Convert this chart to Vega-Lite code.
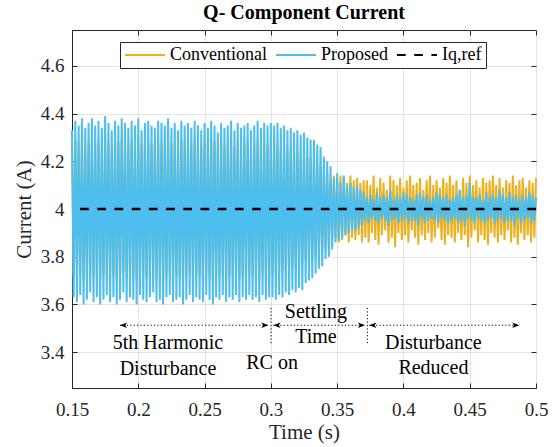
{
"$schema":"https://vega.github.io/schema/vega-lite/v6.json",
"width":464,"height":358,
"autosize":{"type":"none"},
"padding":{"left":72,"top":30,"right":23,"bottom":59},
"background":"white",
"title":{"text":"Q- Component Current","fontSize":20,"fontWeight":"bold","font":"Liberation Serif","color":"black","anchor":"middle","frame":"group","baseline":"alphabetic","offset":-9},
"config":{
"font":"Liberation Serif",
"view":{"stroke":"#262626","strokeWidth":1},
"axis":{"labelFont":"Liberation Serif","labelFontSize":19,"labelColor":"#262626","labelFlush":false,"titleFont":"Liberation Serif","titleFontSize":21,"titleFontWeight":"normal","titleColor":"#262626","domainColor":"#262626","tickColor":"#262626","gridColor":"#e3e3e3","tickSize":-5,"domainWidth":1,"tickWidth":1},
"legend":{"labelFont":"Liberation Serif","labelFontSize":18,"labelColor":"black","symbolType":"stroke","symbolSize":1600,"symbolStrokeWidth":2,"labelOffset":4,"columnPadding":8,"padding":4,"strokeColor":"#262626","fillColor":"white","clipHeight":18}
},
"data":{"values":[
{"t":0.15,"c":4.27,"p":4.33},{"t":0.15125,"c":3.72,"p":3.63},{"t":0.1525,"c":4.29,"p":4.37},{"t":0.15375,"c":3.71,"p":3.61},{"t":0.155,"c":4.28,"p":4.35},{"t":0.15625,"c":3.73,"p":3.64},{"t":0.1575,"c":4.30,"p":4.38},{"t":0.15875,"c":3.70,"p":3.60},
{"t":0.16,"c":4.27,"p":4.34},{"t":0.16125,"c":3.72,"p":3.62},{"t":0.1625,"c":4.28,"p":4.36},{"t":0.16375,"c":3.74,"p":3.65},{"t":0.165,"c":4.29,"p":4.38},{"t":0.16625,"c":3.71,"p":3.61},{"t":0.1675,"c":4.27,"p":4.35},{"t":0.16875,"c":3.72,"p":3.63},
{"t":0.17,"c":4.28,"p":4.37},{"t":0.17125,"c":3.70,"p":3.60},{"t":0.1725,"c":4.26,"p":4.34},{"t":0.17375,"c":3.72,"p":3.62},{"t":0.175,"c":4.29,"p":4.39},{"t":0.17625,"c":3.73,"p":3.64},{"t":0.1775,"c":4.28,"p":4.36},{"t":0.17875,"c":3.71,"p":3.61},
{"t":0.18,"c":4.27,"p":4.33},{"t":0.18125,"c":3.72,"p":3.63},{"t":0.1825,"c":4.29,"p":4.37},{"t":0.18375,"c":3.70,"p":3.60},{"t":0.185,"c":4.28,"p":4.35},{"t":0.18625,"c":3.72,"p":3.62},{"t":0.1875,"c":4.30,"p":4.38},{"t":0.18875,"c":3.74,"p":3.65},
{"t":0.19,"c":4.28,"p":4.36},{"t":0.19125,"c":3.71,"p":3.61},{"t":0.1925,"c":4.27,"p":4.34},{"t":0.19375,"c":3.72,"p":3.63},{"t":0.195,"c":4.29,"p":4.37},{"t":0.19625,"c":3.72,"p":3.62},{"t":0.1975,"c":4.28,"p":4.35},{"t":0.19875,"c":3.70,"p":3.60},
{"t":0.2,"c":4.30,"p":4.38},{"t":0.20125,"c":3.73,"p":3.64},{"t":0.2025,"c":4.27,"p":4.33},{"t":0.20375,"c":3.72,"p":3.62},{"t":0.205,"c":4.28,"p":4.36},{"t":0.20625,"c":3.71,"p":3.61},{"t":0.2075,"c":4.29,"p":4.37},{"t":0.20875,"c":3.72,"p":3.63},
{"t":0.21,"c":4.27,"p":4.35},{"t":0.21125,"c":3.74,"p":3.65},{"t":0.2125,"c":4.28,"p":4.34},{"t":0.21375,"c":3.71,"p":3.61},{"t":0.215,"c":4.29,"p":4.37},{"t":0.21625,"c":3.72,"p":3.62},{"t":0.2175,"c":4.28,"p":4.36},{"t":0.21875,"c":3.70,"p":3.60},
{"t":0.22,"c":4.27,"p":4.35},{"t":0.22125,"c":3.72,"p":3.63},{"t":0.2225,"c":4.30,"p":4.38},{"t":0.22375,"c":3.73,"p":3.64},{"t":0.225,"c":4.28,"p":4.34},{"t":0.22625,"c":3.71,"p":3.61},{"t":0.2275,"c":4.27,"p":4.36},{"t":0.22875,"c":3.72,"p":3.62},
{"t":0.23,"c":4.26,"p":4.33},{"t":0.23125,"c":3.72,"p":3.63},{"t":0.2325,"c":4.29,"p":4.37},{"t":0.23375,"c":3.70,"p":3.60},{"t":0.235,"c":4.28,"p":4.35},{"t":0.23625,"c":3.72,"p":3.62},{"t":0.2375,"c":4.28,"p":4.36},{"t":0.23875,"c":3.73,"p":3.64},
{"t":0.24,"c":4.27,"p":4.34},{"t":0.24125,"c":3.71,"p":3.61},{"t":0.2425,"c":4.29,"p":4.37},{"t":0.24375,"c":3.72,"p":3.63},{"t":0.245,"c":4.28,"p":4.35},{"t":0.24625,"c":3.72,"p":3.62},{"t":0.2475,"c":4.26,"p":4.33},{"t":0.24875,"c":3.71,"p":3.61},
{"t":0.25,"c":4.28,"p":4.36},{"t":0.25125,"c":3.73,"p":3.64},{"t":0.2525,"c":4.27,"p":4.34},{"t":0.25375,"c":3.72,"p":3.62},{"t":0.255,"c":4.29,"p":4.37},{"t":0.25625,"c":3.70,"p":3.60},{"t":0.2575,"c":4.28,"p":4.35},{"t":0.25875,"c":3.72,"p":3.63},
{"t":0.26,"c":4.26,"p":4.32},{"t":0.26125,"c":3.72,"p":3.62},{"t":0.2625,"c":4.28,"p":4.36},{"t":0.26375,"c":3.73,"p":3.64},{"t":0.265,"c":4.27,"p":4.34},{"t":0.26625,"c":3.71,"p":3.61},{"t":0.2675,"c":4.28,"p":4.35},{"t":0.26875,"c":3.72,"p":3.63},
{"t":0.27,"c":4.29,"p":4.37},{"t":0.27125,"c":3.72,"p":3.62},{"t":0.2725,"c":4.26,"p":4.33},{"t":0.27375,"c":3.73,"p":3.64},{"t":0.275,"c":4.28,"p":4.36},{"t":0.27625,"c":3.71,"p":3.61},{"t":0.2775,"c":4.27,"p":4.34},{"t":0.27875,"c":3.72,"p":3.63},
{"t":0.28,"c":4.28,"p":4.35},{"t":0.28125,"c":3.72,"p":3.62},{"t":0.2825,"c":4.28,"p":4.36},{"t":0.28375,"c":3.73,"p":3.64},{"t":0.285,"c":4.26,"p":4.33},{"t":0.28625,"c":3.72,"p":3.62},{"t":0.2875,"c":4.28,"p":4.35},{"t":0.28875,"c":3.72,"p":3.63},
{"t":0.29,"c":4.29,"p":4.37},{"t":0.29125,"c":3.71,"p":3.61},{"t":0.2925,"c":4.27,"p":4.34},{"t":0.29375,"c":3.73,"p":3.64},{"t":0.295,"c":4.28,"p":4.36},{"t":0.29625,"c":3.72,"p":3.62},{"t":0.2975,"c":4.27,"p":4.35},{"t":0.29875,"c":3.72,"p":3.63},
{"t":0.3,"c":4.28,"p":4.36},{"t":0.30125,"c":3.72,"p":3.63},{"t":0.3025,"c":4.27,"p":4.35},{"t":0.30375,"c":3.73,"p":3.62},{"t":0.305,"c":4.27,"p":4.36},{"t":0.30625,"c":3.73,"p":3.64},{"t":0.3075,"c":4.26,"p":4.34},{"t":0.30875,"c":3.74,"p":3.63},
{"t":0.31,"c":4.26,"p":4.35},{"t":0.31125,"c":3.74,"p":3.65},{"t":0.3125,"c":4.25,"p":4.33},{"t":0.31375,"c":3.75,"p":3.64},{"t":0.315,"c":4.25,"p":4.34},{"t":0.31625,"c":3.75,"p":3.66},{"t":0.3175,"c":4.24,"p":4.32},{"t":0.31875,"c":3.76,"p":3.65},
{"t":0.32,"c":4.24,"p":4.33},{"t":0.32125,"c":3.77,"p":3.67},{"t":0.3225,"c":4.23,"p":4.31},{"t":0.32375,"c":3.77,"p":3.66},{"t":0.325,"c":4.22,"p":4.32},{"t":0.32625,"c":3.78,"p":3.69},{"t":0.3275,"c":4.22,"p":4.30},{"t":0.32875,"c":3.79,"p":3.70},
{"t":0.33,"c":4.21,"p":4.29},{"t":0.33125,"c":3.80,"p":3.71},{"t":0.3325,"c":4.20,"p":4.29},{"t":0.33375,"c":3.80,"p":3.73},{"t":0.335,"c":4.19,"p":4.27},{"t":0.33625,"c":3.81,"p":3.75},{"t":0.3375,"c":4.18,"p":4.26},{"t":0.33875,"c":3.82,"p":3.76},
{"t":0.34,"c":4.17,"p":4.22},{"t":0.34125,"c":3.83,"p":3.79},{"t":0.3425,"c":4.15,"p":4.20},{"t":0.34375,"c":3.84,"p":3.80},{"t":0.345,"c":4.13,"p":4.18},{"t":0.34625,"c":3.87,"p":3.83},{"t":0.3475,"c":4.14,"p":4.13},{"t":0.34875,"c":3.88,"p":3.86},
{"t":0.35,"c":4.12,"p":4.15},{"t":0.35125,"c":3.86,"p":3.87},{"t":0.3525,"c":4.14,"p":4.11},{"t":0.35375,"c":3.87,"p":3.88},{"t":0.355,"c":4.13,"p":4.14},{"t":0.35625,"c":3.89,"p":3.89},{"t":0.3575,"c":4.11,"p":4.10},{"t":0.35875,"c":3.86,"p":3.90},
{"t":0.36,"c":4.14,"p":4.11},{"t":0.36125,"c":3.88,"p":3.91},{"t":0.3625,"c":4.12,"p":4.09},{"t":0.36375,"c":3.87,"p":3.91},{"t":0.365,"c":4.13,"p":4.10},{"t":0.36625,"c":3.89,"p":3.92},{"t":0.3675,"c":4.11,"p":4.08},{"t":0.36875,"c":3.86,"p":3.93},
{"t":0.37,"c":4.12,"p":4.07},{"t":0.37125,"c":3.88,"p":3.95},{"t":0.3725,"c":4.12,"p":4.05},{"t":0.37375,"c":3.86,"p":3.94},{"t":0.375,"c":4.10,"p":4.06},{"t":0.37625,"c":3.90,"p":3.96},{"t":0.3775,"c":4.14,"p":4.04},{"t":0.37875,"c":3.87,"p":3.95},
{"t":0.38,"c":4.09,"p":4.07},{"t":0.38125,"c":3.85,"p":3.94},{"t":0.3825,"c":4.13,"p":4.05},{"t":0.38375,"c":3.89,"p":3.96},{"t":0.385,"c":4.11,"p":4.06},{"t":0.38625,"c":3.91,"p":3.95},{"t":0.3875,"c":4.08,"p":4.05},{"t":0.38875,"c":3.86,"p":3.93},
{"t":0.39,"c":4.14,"p":4.08},{"t":0.39125,"c":3.88,"p":3.95},{"t":0.3925,"c":4.12,"p":4.04},{"t":0.39375,"c":3.84,"p":3.96},{"t":0.395,"c":4.10,"p":4.06},{"t":0.39625,"c":3.90,"p":3.94},{"t":0.3975,"c":4.13,"p":4.05},{"t":0.39875,"c":3.87,"p":3.95},
{"t":0.4,"c":4.09,"p":4.07},{"t":0.40125,"c":3.89,"p":3.96},{"t":0.4025,"c":4.12,"p":4.06},{"t":0.40375,"c":3.86,"p":3.94},{"t":0.405,"c":4.14,"p":4.05},{"t":0.40625,"c":3.91,"p":3.95},{"t":0.4075,"c":4.10,"p":4.04},{"t":0.40875,"c":3.88,"p":3.95},
{"t":0.41,"c":4.11,"p":4.06},{"t":0.41125,"c":3.85,"p":3.93},{"t":0.4125,"c":4.13,"p":4.07},{"t":0.41375,"c":3.89,"p":3.96},{"t":0.415,"c":4.08,"p":4.05},{"t":0.41625,"c":3.87,"p":3.94},{"t":0.4175,"c":4.12,"p":4.06},{"t":0.41875,"c":3.90,"p":3.95},
{"t":0.42,"c":4.14,"p":4.04},{"t":0.42125,"c":3.86,"p":3.96},{"t":0.4225,"c":4.10,"p":4.05},{"t":0.42375,"c":3.88,"p":3.95},{"t":0.425,"c":4.12,"p":4.07},{"t":0.42625,"c":3.92,"p":3.94},{"t":0.4275,"c":4.09,"p":4.06},{"t":0.42875,"c":3.87,"p":3.96},
{"t":0.43,"c":4.13,"p":4.05},{"t":0.43125,"c":3.85,"p":3.95},{"t":0.4325,"c":4.11,"p":4.06},{"t":0.43375,"c":3.89,"p":3.94},{"t":0.435,"c":4.14,"p":4.04},{"t":0.43625,"c":3.88,"p":3.95},{"t":0.4375,"c":4.10,"p":4.05},{"t":0.43875,"c":3.86,"p":3.96},
{"t":0.44,"c":4.12,"p":4.06},{"t":0.44125,"c":3.90,"p":3.94},{"t":0.4425,"c":4.08,"p":4.08},{"t":0.44375,"c":3.87,"p":3.95},{"t":0.445,"c":4.13,"p":4.05},{"t":0.44625,"c":3.89,"p":3.93},{"t":0.4475,"c":4.11,"p":4.06},{"t":0.44875,"c":3.84,"p":3.96},
{"t":0.45,"c":4.14,"p":4.11},{"t":0.45125,"c":3.88,"p":3.95},{"t":0.4525,"c":4.10,"p":4.05},{"t":0.45375,"c":3.91,"p":3.94},{"t":0.455,"c":4.12,"p":4.05},{"t":0.45625,"c":3.86,"p":3.96},{"t":0.4575,"c":4.09,"p":4.06},{"t":0.45875,"c":3.89,"p":3.95},
{"t":0.46,"c":4.13,"p":4.04},{"t":0.46125,"c":3.87,"p":3.94},{"t":0.4625,"c":4.11,"p":4.07},{"t":0.46375,"c":3.85,"p":3.95},{"t":0.465,"c":4.12,"p":4.05},{"t":0.46625,"c":3.90,"p":3.96},{"t":0.4675,"c":4.14,"p":4.06},{"t":0.46875,"c":3.88,"p":3.94},
{"t":0.47,"c":4.10,"p":4.05},{"t":0.47125,"c":3.86,"p":3.95},{"t":0.4725,"c":4.13,"p":4.08},{"t":0.47375,"c":3.89,"p":3.96},{"t":0.475,"c":4.09,"p":4.06},{"t":0.47625,"c":3.87,"p":3.94},{"t":0.4775,"c":4.12,"p":4.05},{"t":0.47875,"c":3.91,"p":3.95},
{"t":0.48,"c":4.11,"p":4.07},{"t":0.48125,"c":3.86,"p":3.95},{"t":0.4825,"c":4.14,"p":4.05},{"t":0.48375,"c":3.88,"p":3.93},{"t":0.485,"c":4.10,"p":4.06},{"t":0.48625,"c":3.85,"p":3.96},{"t":0.4875,"c":4.12,"p":4.04},{"t":0.48875,"c":3.90,"p":3.94},
{"t":0.49,"c":4.13,"p":4.06},{"t":0.49125,"c":3.87,"p":3.95},{"t":0.4925,"c":4.09,"p":4.05},{"t":0.49375,"c":3.89,"p":3.96},{"t":0.495,"c":4.12,"p":4.07},{"t":0.49625,"c":3.86,"p":3.94},{"t":0.4975,"c":4.11,"p":4.06},{"t":0.49875,"c":3.88,"p":3.95},
{"t":0.5,"c":4.13,"p":4.05}
]},
"layer":[
{"mark":{"type":"line","strokeWidth":2},
 "encoding":{
  "x":{"field":"t","type":"quantitative","scale":{"domain":[0.15,0.5],"nice":false,"zero":false},"axis":{"values":[0.15,0.2,0.25,0.3,0.35,0.4,0.45,0.5],"format":"~g","title":"Time (s)","labelPadding":17,"titleY":50,"titleBaseline":"alphabetic","grid":true}},
  "y":{"field":"c","type":"quantitative","scale":{"domain":[3.25,4.75],"nice":false,"zero":false},"axis":{"values":[3.4,3.6,3.8,4,4.2,4.4,4.6],"format":"~g","title":"Current (A)","labelPadding":13,"titleX":-42,"titleY":179,"titleBaseline":"alphabetic","titleAngle":-90,"grid":true}},
  "color":{"datum":"Conventional","type":"nominal","scale":{"domain":["Conventional","Proposed","Iq,ref"],"range":["#EDB120","#4DBEEE","#000000"]},"legend":{"title":null,"orient":"none","legendX":48,"legendY":12,"direction":"horizontal"}}
 }},
{"mark":{"type":"line","strokeWidth":2},
 "encoding":{
  "x":{"field":"t","type":"quantitative","scale":{"domain":[0.15,0.5]},"axis":null},
  "y":{"field":"p","type":"quantitative","scale":{"domain":[3.25,4.75]},"axis":null},
  "color":{"datum":"Proposed","type":"nominal"}
 }},
{"data":{"values":[{"v":4}]},
 "mark":{"type":"rule","strokeWidth":2.5},
 "encoding":{
  "y":{"field":"v","type":"quantitative","scale":{"domain":[3.25,4.75]},"axis":null},
  "color":{"datum":"Iq,ref","type":"nominal"},
  "strokeDash":{"datum":"Iq,ref","type":"nominal","scale":{"domain":["Conventional","Proposed","Iq,ref"],"range":[[1,0],[1,0],[8.7,8.5]]},"legend":{"title":null,"orient":"none","legendX":48,"legendY":12,"direction":"horizontal"}}
 }},
{"data":{"values":[{"x":0.3001,"y1":3.438,"y2":3.595},{"x":0.3728,"y1":3.438,"y2":3.59}]},
 "mark":{"type":"rule","color":"black","strokeWidth":1,"strokeDash":[1.2,2.2]},
 "encoding":{
  "x":{"field":"x","type":"quantitative","scale":{"domain":[0.15,0.5]},"axis":{"orient":"top","values":[0.15,0.2,0.25,0.3,0.35,0.4,0.45,0.5],"labels":false,"title":null,"grid":false,"domain":false,"tickSize":-5}},
  "y":{"field":"y1","type":"quantitative","scale":{"domain":[3.25,4.75]},"axis":{"orient":"right","values":[3.4,3.6,3.8,4,4.2,4.4,4.6],"labels":false,"title":null,"grid":false,"domain":false,"tickSize":-5}},
  "y2":{"field":"y2"}
 }},
{"data":{"values":[{"x1":0.1862,"x2":0.2981},{"x1":0.302,"x2":0.371},{"x1":0.3743,"x2":0.4874}]},
 "mark":{"type":"rule","color":"black","strokeWidth":1,"strokeDash":[1.2,2.2]},
 "encoding":{
  "x":{"field":"x1","type":"quantitative","scale":{"domain":[0.15,0.5]},"axis":null},
  "x2":{"field":"x2"},
  "y":{"datum":3.513,"type":"quantitative","scale":{"domain":[3.25,4.75]},"axis":null}
 }},
{"data":{"values":[{"x":0.1862,"d":"L"},{"x":0.2981,"d":"R"},{"x":0.302,"d":"L"},{"x":0.371,"d":"R"},{"x":0.3743,"d":"L"},{"x":0.4874,"d":"R"}]},
 "mark":{"type":"point","filled":true,"color":"black","size":196,"opacity":1},
 "encoding":{
  "x":{"field":"x","type":"quantitative","scale":{"domain":[0.15,0.5]},"axis":null},
  "y":{"datum":3.513,"type":"quantitative","scale":{"domain":[3.25,4.75]},"axis":null},
  "shape":{"field":"d","type":"nominal","scale":{"domain":["L","R"],"range":["M1,-0.38L0,0L1,0.38L0.75,0Z","M-1,-0.38L0,0L-1,0.38L-0.75,0Z"]},"legend":null}
 }},
{"data":{"values":[
 {"x":0.2224,"y":3.439,"label":"5th Harmonic"},
 {"x":0.2224,"y":3.33,"label":"Disturbance"},
 {"x":0.3009,"y":3.356,"label":"RC on"},
 {"x":0.334,"y":3.57,"label":"Settling"},
 {"x":0.334,"y":3.464,"label":"Time"},
 {"x":0.4226,"y":3.438,"label":"Disturbance"},
 {"x":0.4226,"y":3.332,"label":"Reduced"}
 ]},
 "mark":{"type":"text","font":"Liberation Serif","fontSize":20,"color":"black","align":"center","baseline":"middle"},
 "encoding":{
  "x":{"field":"x","type":"quantitative","scale":{"domain":[0.15,0.5]},"axis":null},
  "y":{"field":"y","type":"quantitative","scale":{"domain":[3.25,4.75]},"axis":null},
  "text":{"field":"label"}
 }}
],
"resolve":{"axis":{"x":"independent","y":"independent"}}
}
